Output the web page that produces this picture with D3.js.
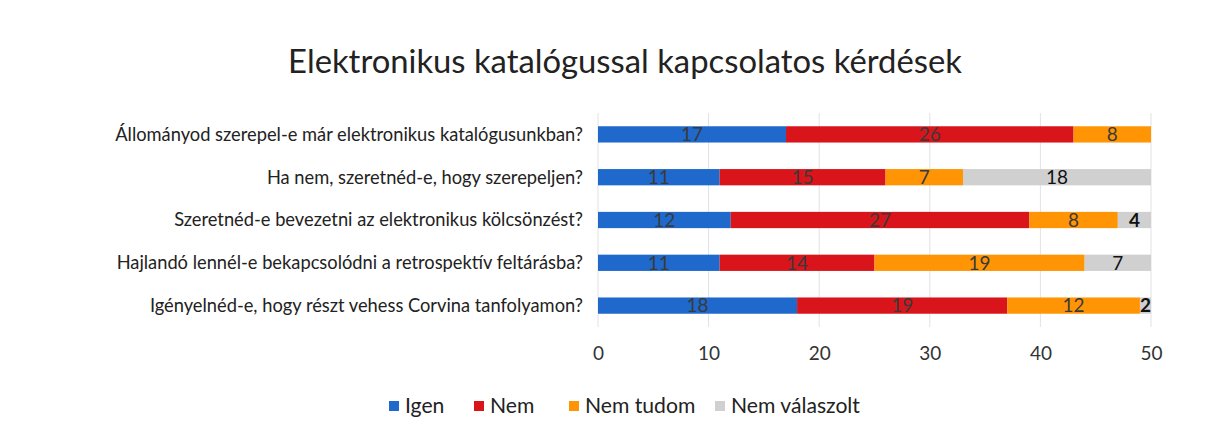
<!DOCTYPE html>
<html>
<head>
<meta charset="utf-8">
<script src="https://cdn.jsdelivr.net/npm/d3@7"></script>
<style>
  body { margin: 0; background: #fff; }
  text { font-family: Lato, "Open Sans", sans-serif; }
</style>
</head>
<body>
<svg id="chart" width="1220" height="433"></svg>
<script>
// data
var questions = [
    "Állományod szerepel-e már elektronikus katalógusunkban?",
    "Ha nem, szeretnéd-e, hogy szerepeljen?",
    "Szeretnéd-e bevezetni az elektronikus kölcsönzést?",
    "Hajlandó lennél-e bekapcsolódni a retrospektív feltárásba?",
    "Igényelnéd-e, hogy részt vehess Corvina tanfolyamon?"
];
var seriesNames = ["Igen", "Nem", "Nem tudom", "Nem válaszolt"];
var igen = [17, 11, 12, 11, 18];
var nem = [26, 15, 27, 14, 19];
var nemTudom = [8, 7, 8, 19, 12];
var nemValaszolt = [0, 18, 4, 7, 2];
var xTicks = [0, 10, 20, 30, 40, 50];

var colors = ["#1f68cc", "#d9141a", "#ff9405", "#d0d0d0"];

var svg = d3.select("#chart");
var margin = {left: 598, right: 69, top: 113, bottom: 106};
var width = 1220 - margin.left - margin.right;
var height = 433 - margin.top - margin.bottom;

var x = d3.scaleLinear().domain([0, 50]).range([0, width]);
var y = d3.scaleBand().domain(questions).range([0, height]).paddingInner(0.62).paddingOuter(0.31);

// shrink/grow font so a text fits the width seen in the picture
function fit(sel, target) {
    var fs = parseFloat(sel.attr("font-size"));
    var w = sel.node().getComputedTextLength();
    sel.attr("font-size", fs * target / w);
    return fs * target / w;
}

var title = svg.append("text")
    .attr("x", 625)
    .attr("y", 73)
    .attr("text-anchor", "middle")
    .attr("font-size", 30)
    .attr("fill", "#222")
    .text("Elektronikus katalógussal kapcsolatos kérdések");
fit(title, 674);

var g = svg.append("g").attr("transform", "translate(" + margin.left + "," + margin.top + ")");

// gridlines
g.selectAll(".grid")
    .data(xTicks)
    .enter().append("line")
    .attr("x1", function (d) { return x(d); })
    .attr("x2", function (d) { return x(d); })
    .attr("y1", 0)
    .attr("y2", height)
    .attr("stroke", "#e2e2e2")
    .attr("stroke-width", 1);

// x axis labels
var axis = d3.axisBottom(x).tickValues(xTicks).tickSize(0).tickPadding(20);
var ax = g.append("g").attr("transform", "translate(0," + height + ")").call(axis);
ax.select(".domain").remove();
ax.selectAll("text").attr("font-size", 19).attr("fill", "#333")
    .style("font-family", "Lato, sans-serif");

// question labels
var qlabels = g.selectAll(".qlabel")
    .data(questions)
    .enter().append("text")
    .attr("x", -15)
    .attr("y", function (d) { return y(d) + y.bandwidth() / 2; })
    .attr("dy", "0.35em")
    .attr("text-anchor", "end")
    .attr("font-size", 19)
    .attr("fill", "#222")
    .text(function (d) { return d; });
var w0 = qlabels.nodes()[0].getComputedTextLength();
qlabels.attr("font-size", 19 * 468 / w0);

// stack
var rows = questions.map(function (q, i) {
    return {q: q, "Igen": igen[i], "Nem": nem[i], "Nem tudom": nemTudom[i], "Nem válaszolt": nemValaszolt[i]};
});
var stacked = d3.stack().keys(seriesNames)(rows);

svg.append("clipPath").attr("id", "clip")
    .append("rect").attr("x", 0).attr("y", 0).attr("width", width).attr("height", height);

var bars = g.append("g").attr("clip-path", "url(#clip)");
var layers = bars.selectAll(".layer")
    .data(stacked)
    .enter().append("g")
    .attr("fill", function (d, i) { return colors[i]; });

layers.selectAll("rect")
    .data(function (d) { return d; })
    .enter().append("rect")
    .attr("x", function (d) { return x(d[0]); })
    .attr("y", function (d) { return y(d.data.q); })
    .attr("width", function (d) { return Math.max(0, x(d[1]) - x(d[0])); })
    .attr("height", y.bandwidth());

// value labels (centred on the visible part of the segment)
stacked.forEach(function (layer, si) {
    layer.forEach(function (d) {
        var v = d[1] - d[0];
        if (v <= 0) return;
        var mid = (d[0] + Math.min(d[1], 50)) / 2;
        var small = si === 3 && v < 5;
        g.append("text")
            .attr("x", x(mid))
            .attr("y", y(d.data.q) + y.bandwidth() / 2)
            .attr("dy", "0.36em")
            .attr("text-anchor", "middle")
            .attr("font-size", 19)
            .attr("font-weight", small ? "bold" : "normal")
            .attr("fill", si === 3 ? "#111" : "#3a3a3a")
            .text(v);
    });
});

// legend
var legendX = [389, 474, 569, 715];
var legend = svg.append("g");
var probe = legend.append("text").attr("font-size", 19).text(seriesNames[3]);
var legendSize = fit(probe, 129);
probe.remove();
seriesNames.forEach(function (name, i) {
    legend.append("rect")
        .attr("x", legendX[i])
        .attr("y", 401)
        .attr("width", 10)
        .attr("height", 10)
        .attr("fill", colors[i]);
    legend.append("text")
        .attr("x", legendX[i] + 16)
        .attr("y", 406)
        .attr("dy", "0.35em")
        .attr("font-size", legendSize)
        .attr("fill", "#222")
        .text(name);
});
</script>
</body>
</html>
